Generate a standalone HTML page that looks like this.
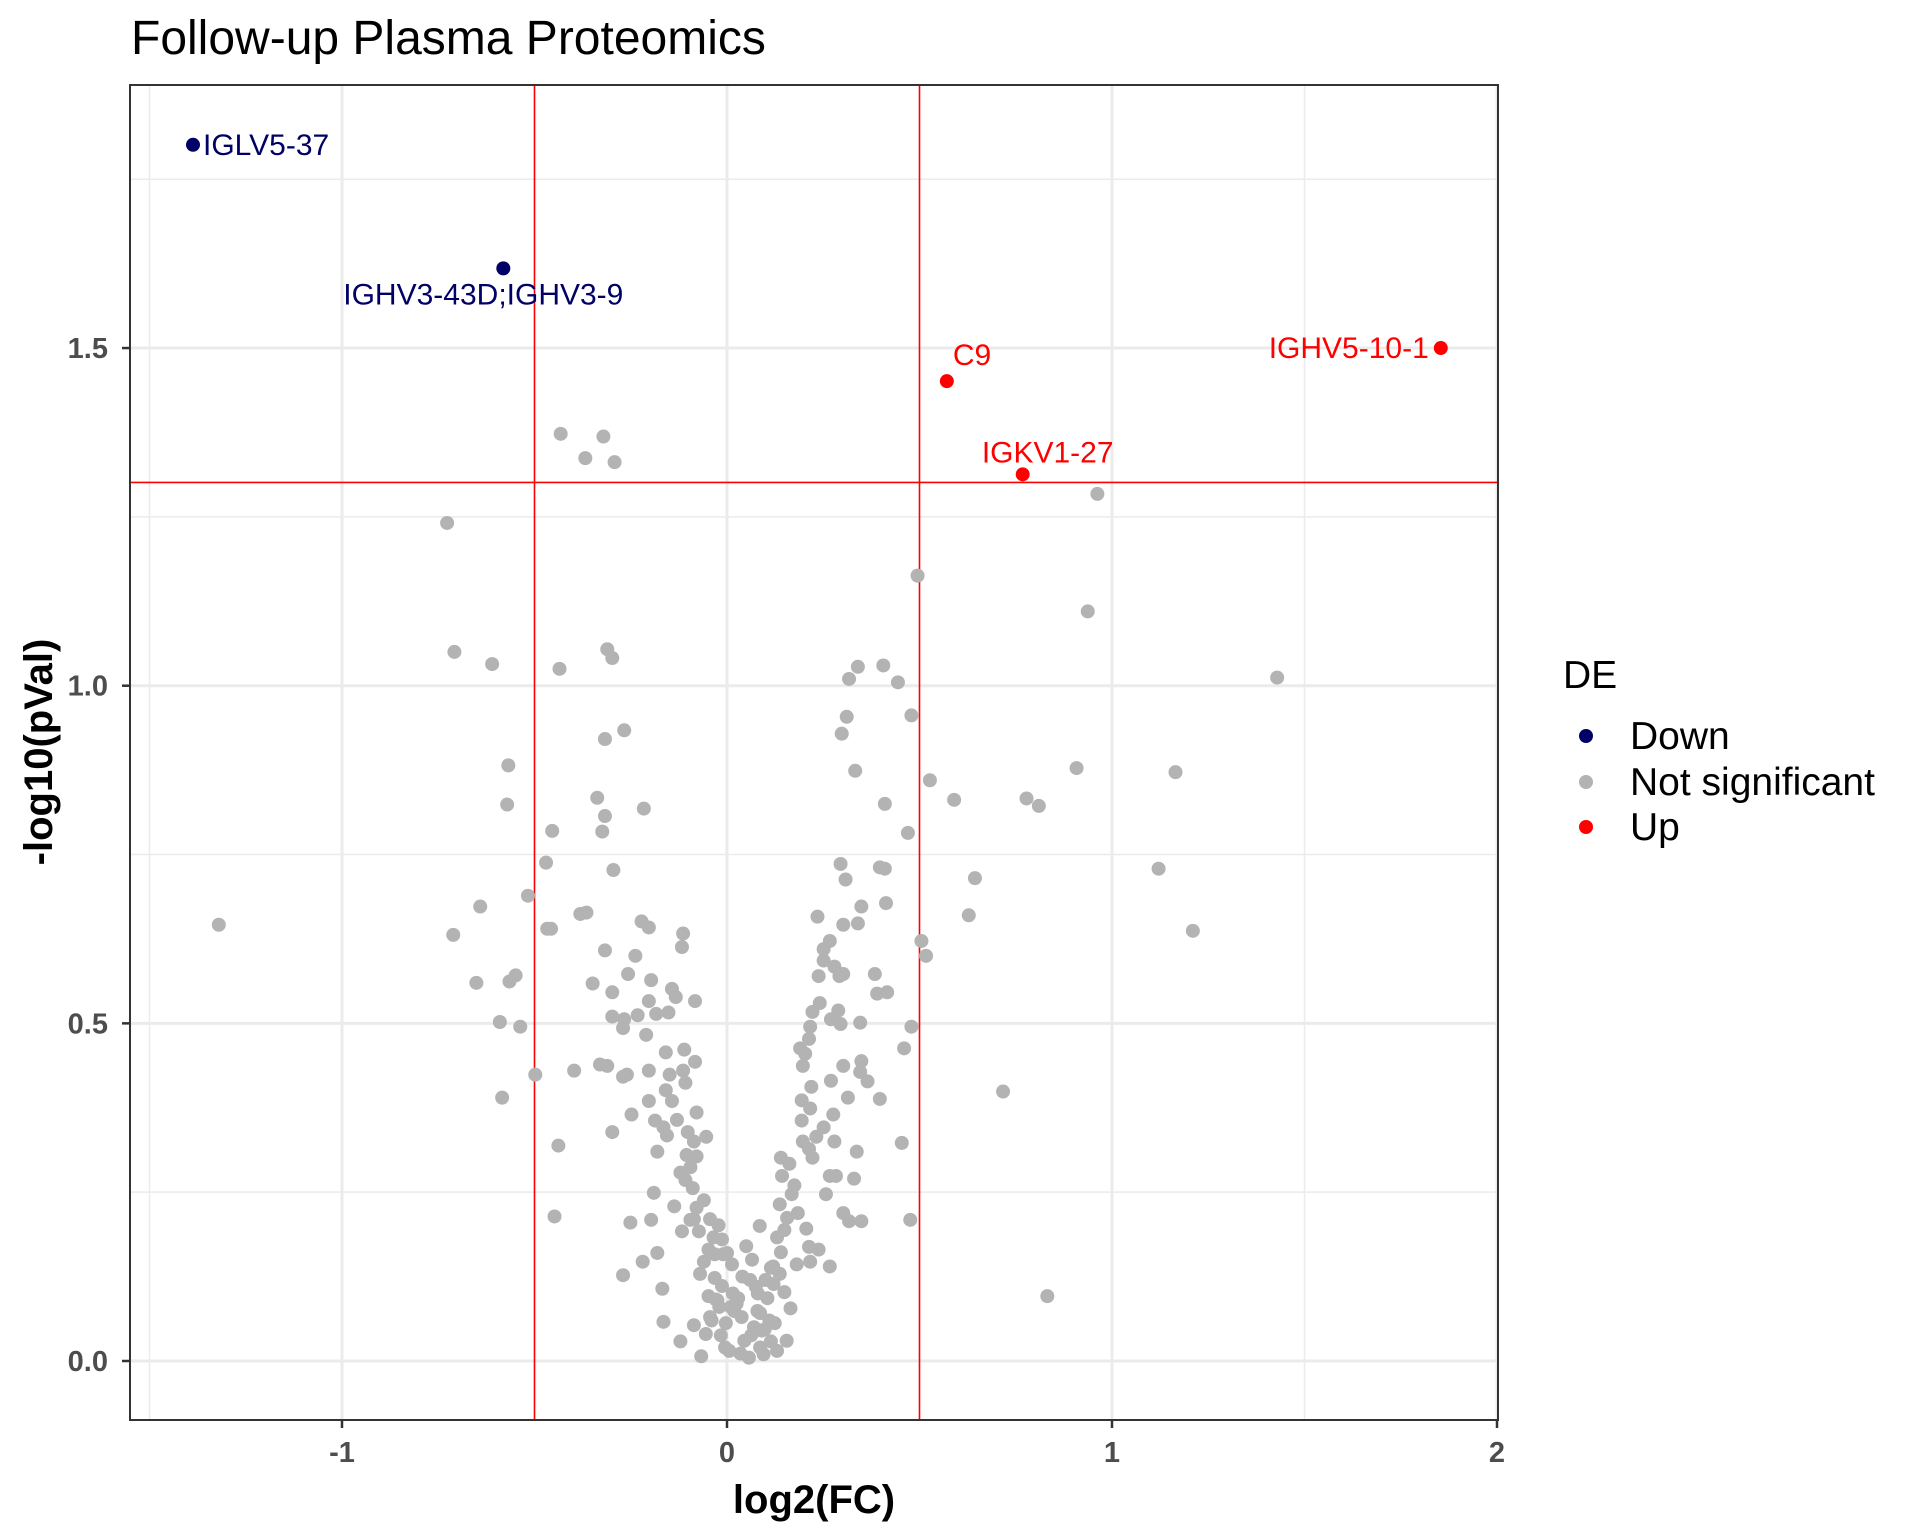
<!DOCTYPE html>
<html><head><meta charset="utf-8"><style>
html,body{margin:0;padding:0;background:#fff;}
svg{display:block;font-family:"Liberation Sans",Arial,sans-serif;}
</style></head><body>
<svg id="chart" width="1920" height="1536" viewBox="0 0 1920 1536">
<text x="131" y="54" font-size="48" fill="#000">Follow-up Plasma Proteomics</text>
<g id="grid"></g>
<g id="refs"></g>
<g id="pts"></g>
<g id="labels"></g>
<rect x="130" y="85" width="1368" height="1335" fill="none" stroke="#333" stroke-width="2"/>
<g id="axes"></g>
<text x="814" y="1513" font-size="40" font-weight="bold" text-anchor="middle" fill="#000">log2(FC)</text>
<text transform="translate(52,752) rotate(-90)" font-size="40" font-weight="bold" text-anchor="middle" fill="#000">-log10(pVal)</text>
<g>
<text x="1563" y="688" font-size="39" fill="#000">DE</text>
<circle cx="1586" cy="736" r="7" fill="#000066"/>
<text x="1630" y="749" font-size="39" fill="#000">Down</text>
<circle cx="1586" cy="782" r="7" fill="#b3b3b3"/>
<text x="1630" y="795" font-size="39" fill="#000">Not significant</text>
<circle cx="1586" cy="827" r="7" fill="#ff0000"/>
<text x="1630" y="840" font-size="39" fill="#000">Up</text>
</g>
</svg>
<script>
const xTicks = [-1, 0, 1, 2];
const xTickLabels = ["-1", "0", "1", "2"];
const yTicks = [0, 0.5, 1, 1.5];
const yTickLabels = ["0.0", "0.5", "1.0", "1.5"];
const xMinor = [-1.5, -0.5, 0.5, 1.5];
const yMinor = [0.25, 0.75, 1.25, 1.75];
const fcCut = [-0.5, 0.5];
const pCut = [1.301];
const nsX = [-1.32,-0.727,-0.708,-0.610,-0.568,-0.571,-0.711,-0.641,-0.517,-0.454,-0.470,-0.651,-0.565,-0.549,-0.590,-0.537,-0.584,-0.498,-0.435,-0.432,-0.368,-0.321,-0.292,-0.311,-0.298,-0.317,-0.267,-0.337,-0.317,-0.324,-0.216,-0.295,-0.467,-0.457,-0.381,-0.365,-0.317,-0.349,-0.298,-0.298,-0.311,-0.330,-0.397,-0.438,-0.448,-0.298,-0.257,-0.238,-0.222,-0.203,-0.114,-0.117,-0.197,-0.203,-0.143,-0.133,-0.083,-0.232,-0.267,-0.270,-0.184,-0.210,-0.152,-0.159,-0.111,-0.083,-0.260,-0.270,-0.203,-0.149,-0.114,-0.108,-0.159,-0.203,-0.143,-0.248,-0.187,-0.165,-0.130,-0.079,-0.156,-0.181,-0.102,-0.086,-0.054,-0.079,-0.121,-0.190,-0.137,-0.251,-0.197,-0.089,-0.079,-0.060,-0.095,-0.073,-0.044,-0.035,-0.048,-0.181,-0.219,-0.270,-0.168,-0.165,-0.121,-0.067,-0.048,-0.086,-0.060,-0.032,-0.013,-0.029,-0.044,-0.016,0.006,-0.003,0.019,0.013,0.000,-0.013,-0.022,-0.105,-0.095,-0.108,-0.086,-0.117,-0.032,-0.070,0.029,0.038,0.057,0.086,0.063,0.098,0.079,0.105,0.121,0.114,0.140,0.130,0.149,0.156,0.137,0.168,0.143,0.162,0.140,0.197,0.175,0.184,0.206,0.213,0.238,0.267,0.216,0.181,0.149,0.165,0.124,0.114,0.086,0.137,0.222,0.213,0.232,0.194,0.216,0.194,0.219,0.197,0.203,0.190,0.213,0.216,0.222,0.241,0.238,0.251,0.267,0.251,0.279,0.292,0.302,0.289,0.295,0.270,0.302,0.314,0.270,0.276,0.251,0.279,0.267,0.257,0.283,0.302,0.317,0.349,0.330,0.337,0.349,0.346,0.365,0.346,0.384,0.390,0.416,0.397,0.454,0.460,0.476,0.479,0.505,0.517,0.413,0.349,0.340,0.302,0.235,0.397,0.410,0.295,0.308,0.470,0.410,0.333,0.298,0.311,0.317,0.340,0.406,0.444,0.479,0.495,0.527,0.590,0.644,0.628,0.778,0.810,0.908,0.937,0.962,1.165,1.121,1.210,1.429,0.717,0.832,-0.010,0.035,0.045,0.070,0.090,0.110,0.025,0.060,0.080,0.100,0.120,0.050,-0.005,-0.020,-0.040,0.015,0.075,0.095,0.130,0.155,0.010,-0.025,-0.055,0.040,0.065,0.085];
const nsY = [0.646,1.241,1.050,1.032,0.882,0.824,0.631,0.673,0.689,0.785,0.738,0.560,0.562,0.571,0.502,0.495,0.390,0.424,1.025,1.373,1.337,1.369,1.331,1.054,1.041,0.921,0.934,0.834,0.807,0.784,0.818,0.727,0.640,0.640,0.662,0.664,0.608,0.559,0.546,0.510,0.437,0.439,0.430,0.319,0.214,0.339,0.573,0.600,0.651,0.642,0.633,0.613,0.564,0.533,0.551,0.539,0.533,0.512,0.506,0.493,0.514,0.483,0.516,0.457,0.461,0.443,0.424,0.421,0.430,0.424,0.430,0.412,0.401,0.385,0.385,0.365,0.356,0.346,0.357,0.368,0.334,0.310,0.339,0.325,0.332,0.303,0.279,0.249,0.229,0.205,0.209,0.256,0.227,0.238,0.209,0.192,0.210,0.183,0.165,0.160,0.147,0.127,0.107,0.058,0.029,0.007,0.096,0.053,0.147,0.123,0.111,0.091,0.065,0.038,0.015,0.056,0.074,0.143,0.160,0.180,0.201,0.305,0.287,0.268,0.210,0.192,0.158,0.129,0.093,0.065,0.005,0.020,0.038,0.047,0.074,0.093,0.114,0.138,0.161,0.183,0.194,0.212,0.232,0.247,0.274,0.292,0.301,0.325,0.260,0.219,0.196,0.169,0.165,0.140,0.147,0.143,0.102,0.078,0.056,0.029,0.071,0.129,0.301,0.314,0.332,0.356,0.374,0.386,0.406,0.437,0.455,0.463,0.477,0.495,0.517,0.530,0.570,0.593,0.622,0.610,0.584,0.570,0.573,0.519,0.499,0.506,0.437,0.390,0.415,0.365,0.346,0.325,0.274,0.247,0.274,0.219,0.207,0.207,0.270,0.310,0.444,0.428,0.414,0.501,0.573,0.544,0.546,0.388,0.323,0.463,0.209,0.495,0.622,0.600,0.678,0.673,0.648,0.646,0.658,0.731,0.729,0.736,0.713,0.782,0.825,0.874,0.929,0.954,1.010,1.028,1.030,1.005,0.956,1.163,0.860,0.831,0.715,0.660,0.833,0.822,0.878,1.110,1.284,0.872,0.729,0.637,1.012,0.399,0.096,0.158,0.011,0.030,0.050,0.045,0.060,0.085,0.120,0.100,0.120,0.140,0.170,0.020,0.080,0.060,0.100,0.110,0.010,0.015,0.030,0.080,0.090,0.040,0.125,0.150,0.200,0.025,0.035];
const sigNames = ["IGLV5-37","IGHV3-43D;IGHV3-9","C9","IGKV1-27","IGHV5-10-1"];
const sigX = [-1.387,-0.581,0.571,0.768,1.854];
const sigY = [1.801,1.618,1.451,1.313,1.500];
const sigDir = ["Down","Down","Up","Up","Up"];

const NS = "http://www.w3.org/2000/svg";
const L = 130, R = 1498, T = 85, B = 1420;
function sx(v){ return 727 + 385 * v; }
function sy(v){ return 1361 - 675.3 * v; }
function mk(tag, attrs, parent){
  const e = document.createElementNS(NS, tag);
  for (const k in attrs) e.setAttribute(k, attrs[k]);
  parent.appendChild(e); return e;
}
const grid = document.getElementById('grid');
const refs = document.getElementById('refs');
const pts = document.getElementById('pts');
const labels = document.getElementById('labels');
const axes = document.getElementById('axes');

xMinor.forEach(v => { const l = mk('line',{x1:sx(v),x2:sx(v),y1:T,y2:B,stroke:'#ebebeb','stroke-width':1.5},grid);
  
   });
yMinor.forEach(v => { const l = mk('line',{x1:L,x2:R,y1:sy(v),y2:sy(v),stroke:'#ebebeb','stroke-width':1.5},grid);
  
   });
xTicks.forEach((v,i) => {
  const l = mk('line',{x1:sx(v),x2:sx(v),y1:T,y2:B,stroke:'#ebebeb','stroke-width':3},grid);
  
  
  const t = mk('line',{x1:sx(v),x2:sx(v),y1:B,y2:B+8,stroke:'#333','stroke-width':2.5},axes);
  
  
  const tx = mk('text',{x:sx(v),y:1462,'font-size':29,'font-weight':'bold','text-anchor':'middle',fill:'#4d4d4d'},axes);
  tx.textContent = xTickLabels[i];
  
  
});
yTicks.forEach((v,i) => {
  const l = mk('line',{x1:L,x2:R,y1:sy(v),y2:sy(v),stroke:'#ebebeb','stroke-width':3},grid);
  
  
  const t = mk('line',{x1:L-8,x2:L,y1:sy(v),y2:sy(v),stroke:'#333','stroke-width':2.5},axes);
  
  
  const tx = mk('text',{x:108,y:sy(v)+10,'font-size':29,'font-weight':'bold','text-anchor':'end',fill:'#4d4d4d'},axes);
  tx.textContent = yTickLabels[i];
  
  
});
fcCut.forEach(v => { const l = mk('line',{x1:sx(v),x2:sx(v),y1:T,y2:B,stroke:'#ff0000','stroke-width':1.6},refs);
  
   });
pCut.forEach(v => { const l = mk('line',{x1:L,x2:R,y1:sy(v),y2:sy(v),stroke:'#ff0000','stroke-width':1.6},refs);
  
   });
nsX.forEach((v,i) => {
  const c = mk('circle',{cx:sx(v),cy:sy(nsY[i]),r:7,fill:'#b3b3b3'},pts);
  
  
});
const labOff = [[10,10,'start'],[-20,36,'middle'],[6,-16,'start'],[25,-12,'middle'],[-12,10,'end']];
sigX.forEach((v,i) => {
  const col = sigDir[i] === 'Down' ? '#000066' : '#ff0000';
  const c = mk('circle',{cx:sx(v),cy:sy(sigY[i]),r:7,fill:col},pts);
  
  
  const o = labOff[i];
  const t = mk('text',{x:sx(v)+o[0],y:sy(sigY[i])+o[1],'font-size':30,'text-anchor':o[2],fill:col},labels);
  t.textContent = sigNames[i];
  
  
});
</script>
</body></html>
